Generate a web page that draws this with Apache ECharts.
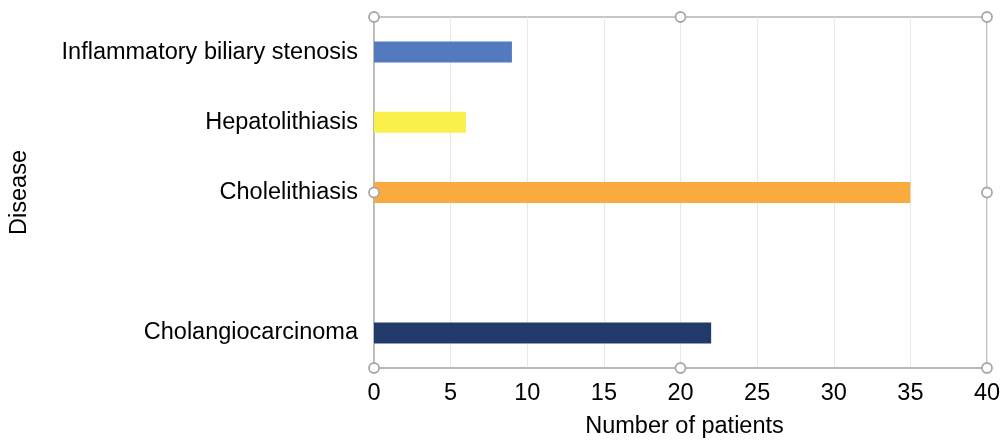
<!DOCTYPE html>
<html><head><meta charset="utf-8">
<script src="https://cdn.jsdelivr.net/npm/echarts@6/dist/echarts.min.js"></script>
<style>html,body{margin:0;padding:0;background:#fff}#c{width:1000px;height:443px}</style>
</head><body><div id="c"></div>
<script>
const categories = ['Cholangiocarcinoma', '', 'Cholelithiasis', 'Hepatolithiasis', 'Inflammatory biliary stenosis'];
const values = [22, null, 35, 6, 9];
const colors = ['#223A6A', '#ffffff', '#FBAA3F', '#FAF04B', '#5379BE'];
const xTicks = {min: 0, max: 40, interval: 5};

const chart = echarts.init(document.getElementById('c'), null, {renderer: 'canvas'});
const font = 'Liberation Sans, Arial, sans-serif';
const fs = 23.5;
chart.setOption({
  animation: false,
  grid: {left: 374, right: 13, top: 17, bottom: 75, containLabel: false, outerBoundsMode: 'none', show: true, borderColor: '#b4b4b4', borderWidth: 1.5, backgroundColor: 'transparent'},
  xAxis: {
    type: 'value', min: xTicks.min, max: xTicks.max, interval: xTicks.interval,
    name: 'Number of patients', nameLocation: 'middle', nameGap: 47,
    nameTextStyle: {fontFamily: font, fontSize: fs, color: '#000', padding: [0, 0, 0, 8]},
    axisLine: {show: true, lineStyle: {color: '#b4b4b4', width: 1.5}},
    axisTick: {show: false},
    axisLabel: {fontFamily: font, fontSize: fs, color: '#000', margin: 14},
    splitLine: {show: true, lineStyle: {color: '#e8e8e8', width: 1}}
  },
  yAxis: {
    type: 'category', data: categories,
    name: 'Disease', nameLocation: 'middle', nameGap: 342,
    nameTextStyle: {fontFamily: font, fontSize: fs, color: '#000'},
    axisLine: {show: true, lineStyle: {color: '#b4b4b4', width: 1.5}},
    axisTick: {show: false},
    axisLabel: {fontFamily: font, fontSize: fs, color: '#000', margin: 16},
    splitLine: {show: false}
  },
  series: [{
    type: 'bar', barWidth: 21,
    data: values.map((v, i) => ({value: v, itemStyle: {color: colors[i]}}))
  }]
});

const rect = chart.getModel().getComponent('grid').coordinateSystem.getRect();
const xs = [rect.x, rect.x + rect.width / 2, rect.x + rect.width];
const ys = [rect.y, rect.y + rect.height / 2, rect.y + rect.height];
const handles = [];
xs.forEach((x, i) => ys.forEach((y, j) => {
  if (i === 1 && j === 1) return;
  handles.push({type: 'circle', shape: {cx: x, cy: y, r: 5}, style: {fill: '#fff', stroke: '#a8a8a8', lineWidth: 1.8}, z: 100});
}));
chart.setOption({graphic: handles});
</script></body></html>
